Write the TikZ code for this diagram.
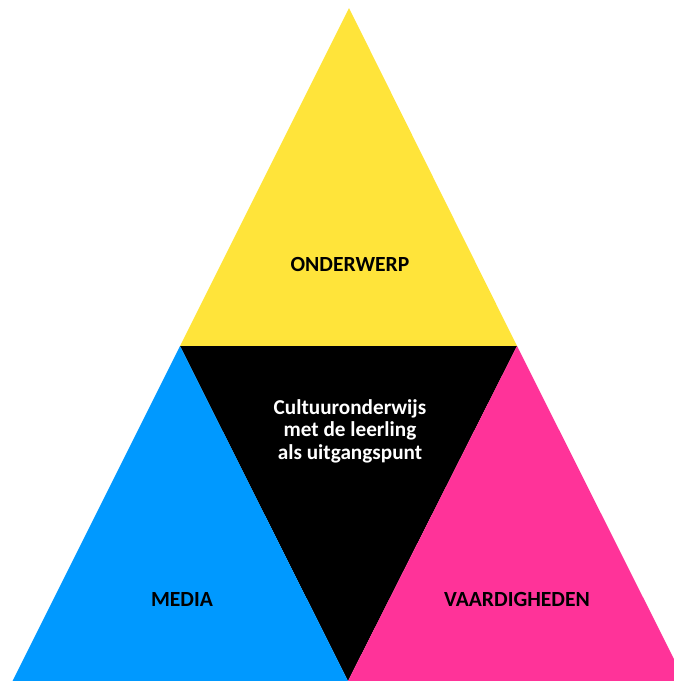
\documentclass[tikz,border=0pt]{standalone}
\usepackage{fontspec}
\setmainfont{Carlito}
\definecolor{triyellow}{RGB}{255,228,58}
\definecolor{triblue}{RGB}{0,153,255}
\definecolor{tripink}{RGB}{255,51,153}
\begin{document}
\begin{tikzpicture}[x=1pt,y=-1pt,
  lbl/.style={font=\fontsize{21.6}{24}\selectfont\bfseries, inner sep=0pt, anchor=center},
  ctr/.style={font=\fontsize{21.2}{22.8}\selectfont\bfseries, text=white, align=center, inner sep=0pt, anchor=north}]
\useasboundingbox (0,0) rectangle (674,681);
\clip (0,0) rectangle (674,681);
\coordinate (T) at (349,8);
\coordinate (ML) at (180,346);
\coordinate (MR) at (517,346);
\coordinate (BL) at (12.5,681);
\coordinate (BM) at (348,681);
\coordinate (BR) at (685,681);
\fill[triyellow] (T) -- (ML) -- (MR) -- cycle;
\fill[black] (ML) -- (MR) -- (BM) -- cycle;
\fill[triblue] (ML) -- (BL) -- (BM) -- cycle;
\fill[tripink] (MR) -- (BM) -- (BR) -- cycle;
\node[lbl] (onderwerp) at (350,264) {ONDERWERP};
\node[lbl] (media) at (182,599) {MEDIA};
\node[lbl] (vaardigheden) at (517,599) {VAARDIGHEDEN};
\node[ctr] (centre) at (350,399) {Cultuuronderwijs\\met de leerling\\als uitgangspunt};
\end{tikzpicture}
\end{document}
